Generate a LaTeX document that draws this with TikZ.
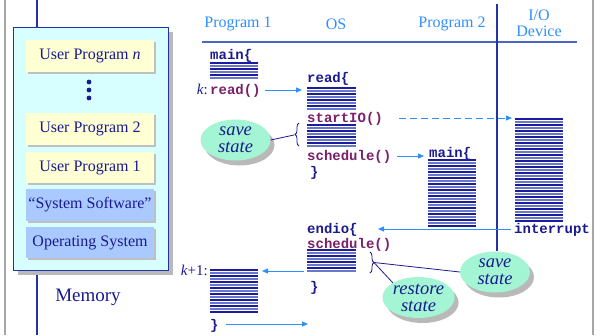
\documentclass[tikz,border=0pt]{standalone}
\usepackage{fontspec}
\setmainfont{Liberation Serif}
\setmonofont{Liberation Mono}
\usetikzlibrary{arrows.meta,shapes.geometric,shadows,decorations.pathreplacing}
\definecolor{dblue}{HTML}{1A1A8F}
\definecolor{hblue}{HTML}{2E8FFF}
\definecolor{purp}{HTML}{7A1F6A}
\definecolor{memfill}{HTML}{D8FFFF}
\definecolor{yel}{HTML}{FFFFD4}
\definecolor{bluebox}{HTML}{A9C9FF}
\definecolor{mint}{HTML}{A3F5D3}
\definecolor{stA}{HTML}{1C1CA0}
\definecolor{stB}{HTML}{6878CC}
\definecolor{lineblue}{HTML}{2233AA}
\definecolor{rule}{HTML}{4A64C8}
\newcommand\stripeset[4]{%
  \foreach \i in {1,...,#4}{%
    \pgfmathsetmacro\yy{#3+3*(\i-1)}%
    \ifodd\i \def\stc{stA}\else\def\stc{stB}\fi
    \draw[line width=1.3pt,color=\stc] (#1,\yy) -- (#2,\yy);
  }}
\tikzset{
  membox/.style={minimum width=128pt, minimum height=32pt, inner xsep=1pt,
    font=\fontsize{16}{18}\selectfont, text=dblue,
    drop shadow={shadow xshift=2pt, shadow yshift=-2pt, fill=gray!50, opacity=1}},
  ubox/.style={membox, fill=yel},
  sbox/.style={membox, fill=bluebox},
  head/.style={font=\fontsize{16}{16}\selectfont, text=hblue, align=center},
  code/.style={font=\fontsize{14}{14}\selectfont\ttfamily\bfseries, text=dblue, inner sep=0pt, anchor=base west},
  callc/.style={code, text=purp},
  lbl/.style={font=\fontsize{15}{15}\selectfont, text=dblue, inner sep=0pt, anchor=base east},
  blob/.style={ellipse, fill=mint, inner sep=0pt, minimum width=70pt, minimum height=41pt,
    font=\itshape\fontsize{18.5}{17}\selectfont, text=dblue, align=center,
    drop shadow={shadow xshift=4pt, shadow yshift=-5pt, fill=gray!55, opacity=1}},
  arr/.style={hblue, line width=1pt, -{Triangle[length=6pt,width=5pt]}},
  brc/.style={dblue, line width=0.8pt, decorate, decoration={brace, amplitude=4pt}},
  lead/.style={dblue, line width=0.8pt}
}
\begin{document}
\begin{tikzpicture}[x=1pt,y=-1pt]
\useasboundingbox (0,0) rectangle (600,335);
% frame lines
\draw[gray!70, line width=1.5pt] (5,0) -- (5,335);
\draw[gray!70, line width=1.5pt] (593,0) -- (593,335);
\draw[lineblue, line width=1.4pt] (37,0) -- (37,335);
% memory
\node[draw=lineblue, line width=1pt, fill=memfill, minimum width=155pt, minimum height=243pt,
  drop shadow={shadow xshift=5pt, shadow yshift=-5pt, fill=gray!55, opacity=1}] (mem) at (90.5,148.5) {};
\node[ubox] (upn) at (90,56) {User Program \textit{n}};
\foreach \yy in {82,90,98} \fill[dblue] (89,\yy) circle (2.4pt);
\node[ubox] (up2) at (90,129) {User Program 2};
\node[ubox, minimum height=31pt] (up1) at (90,167.5) {User Program 1};
\node[sbox] (sys) at (90,205) {“System Software”};
\node[sbox, minimum height=31pt] (osb) at (90,242.5) {Operating System};
\node[font=\fontsize{19}{19}\selectfont, text=dblue] (memlbl) at (88,297) {Memory};
% headers
\node[head] (h1) at (238,24) {Program 1};
\node[head] (h2) at (336,24) {OS};
\node[head] (h3) at (452,24) {Program 2};
\node[head, font=\fontsize{16}{16}\selectfont] (h4) at (539,23) {I/O\\Device};
\draw[rule, line width=1.2pt] (202,42) -- (577,42);
\draw[lineblue, line width=1.2pt] (497,4) -- (497,251);
% program 1
\node[code] (main1) at (210,59) {main\{};
\stripeset{210}{258}{63}{6}
\node[lbl] (klbl) at (208,94) {\textit{k}:};
\node[callc] (read1) at (210,94) {read()};
% OS
\node[code] (reados) at (307,82) {read\{};
\stripeset{307}{356}{88}{8}
\node[callc] (start) at (307,122) {startIO()};
\stripeset{307}{356}{125}{8}
\node[callc] (sched1) at (307,160) {schedule()};
\node[code] (close1) at (310,176) {\}};
% program 2
\node[code] (main2) at (429,157) {main\{};
\stripeset{428}{476}{160}{23}
% io device
\stripeset{515}{563}{119}{35}
\node[code] (intr) at (514,233) {interrupt};
% endio
\node[code] (endio) at (307,233) {endio\{};
\node[callc] (sched2) at (307,248) {schedule()};
\stripeset{307}{356}{250}{8}
\node[code] (close2) at (310,291) {\}};
% k+1
\node[lbl] (k1lbl) at (208,275) {\textit{k}+1:};
\stripeset{210}{258}{270}{15}
\node[code] (close3) at (210,329) {\}};
% arrows
\coordinate (a1s) at (265,90); \coordinate (a1e) at (302,90);
\draw[arr] (a1s) -- (a1e);
\coordinate (a2s) at (399,118); \coordinate (a2e) at (512,118);
\draw[arr, dashed, dash pattern=on 7pt off 4pt] (a2s) -- (a2e);
\coordinate (a3s) at (397,156); \coordinate (a3e) at (424,156);
\draw[arr] (a3s) -- (a3e);
\coordinate (a4s) at (511,229); \coordinate (a4e) at (378,229);
\draw[arr] (a4s) -- (a4e);
\coordinate (a5s) at (304,271); \coordinate (a5e) at (262,271);
\draw[arr] (a5s) -- (a5e);
\coordinate (a6s) at (226,324); \coordinate (a6e) at (308,324);
\draw[arr] (a6s) -- (a6e);
% braces and blobs
\coordinate (b1a) at (299,146); \coordinate (b1b) at (299,123);
\draw[brc] (b1a) -- (b1b);
\coordinate (b1tip) at (294,135);
\node[blob] (save1) at (235.5,140) {save\\state};
\draw[lead] (save1.east) -- (b1tip);
\coordinate (b2a) at (370,252); \coordinate (b2b) at (370,273);
\draw[brc] (b2a) -- (b2b);
\coordinate (b2tip) at (374,262.5);
\node[blob] (save2) at (495,272) {save\\state};
\node[blob] (rest) at (418.5,297.5) {restore\\state};
\draw[lead] (b2tip) -- (save2.west);
\draw[lead] (b2tip) -- (rest.north west);
\end{tikzpicture}
\end{document}
